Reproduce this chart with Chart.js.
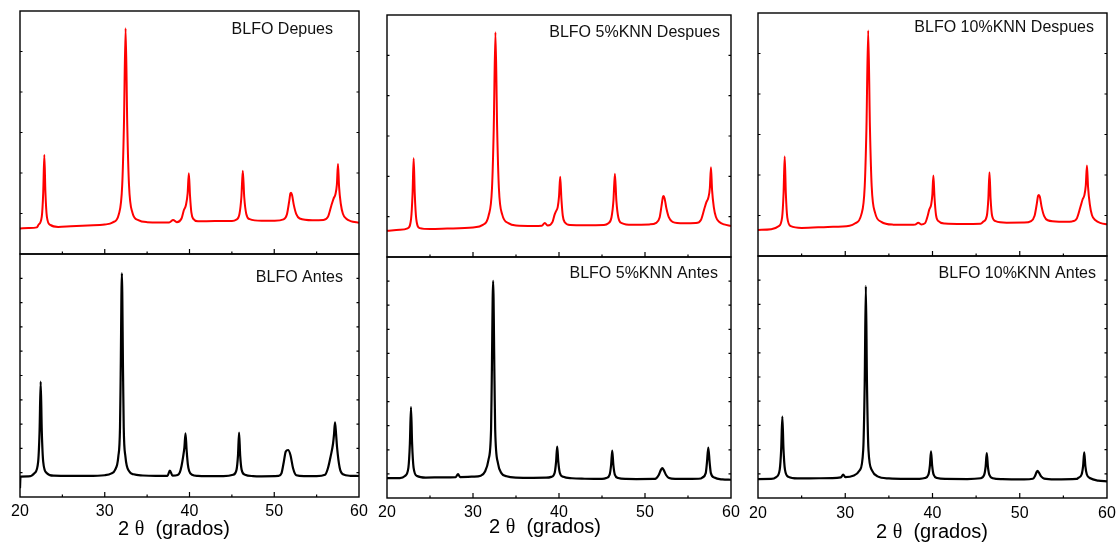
<!DOCTYPE html>
<html>
<head>
<meta charset="utf-8">
<script src="https://cdn.jsdelivr.net/npm/chart.js@4.4.1/dist/chart.umd.min.js"></script>
<style>
  html, body { margin: 0; padding: 0; background: #ffffff; }
  #wrap { position: relative; width: 1118px; height: 548px; overflow: hidden; background: #ffffff; }
  #wrap canvas { position: absolute; }
</style>
</head>
<body>
<div id="wrap"></div>
<script>
// ---- X axis (2θ, degrees) ----
const xTickValues = [20, 30, 40, 50, 60];
const xTickLabels = ['20', '30', '40', '50', '60'];
const xMinorTicks = [25, 35, 45, 55];
const xTitle = ['2 ', 'θ', '  (grados)'];

// ---- Diffraction patterns: [2θ, intensity (a.u.)] ----
const blfoDespues = [
  [20.0,190],[21.0,200],[22.0,215],[22.17,270],[22.57,462],[22.74,1017],[22.87,1886],[23.0,1020],[23.17,465],[23.57,272],
  [24.5,225],[26.0,240],[28.0,260],[30.0,280],[30.96,330],[31.66,520],[32.06,1190],[32.26,2545],[32.46,4810],[32.66,2545],
  [32.86,1200],[33.26,560],[33.96,380],[35.0,335],[36.5,330],[37.6,330],[38.07,385],[38.5,335],[39.06,420],[39.33,610],
  [39.58,730],[39.78,1000],[39.92,1463],[40.06,950],[40.22,560],[40.45,410],[41.0,355],[43.0,360],[45.0,362],[45.5,390],
  [45.9,530],[46.12,910],[46.29,1523],[46.46,910],[46.7,525],[47.1,405],[48.5,368],[50.0,370],[51.1,400],[51.5,520],
  [51.75,800],[51.9,995],[51.98,1015],[52.1,960],[52.3,740],[52.6,520],[53.0,420],[54.5,380],[55.8,385],[56.35,462],
  [56.74,720],[57.0,880],[57.22,980],[57.39,1200],[57.52,1678],[57.65,1150],[57.85,760],[58.1,530],[58.5,415],[59.0,360],
  [60.0,323]
];
const blfoAntes = [
  [20.0,0],[20.06,250],[21.0,255],[21.74,330],[22.14,565],[22.31,1235],[22.44,2284],[22.57,1235],[22.74,565],[23.14,330],
  [24.0,270],[26.0,265],[28.0,265],[30.0,280],[30.8,320],[31.2,390],[31.6,680],[31.8,1300],[31.88,2450],[32.02,4607],
  [32.16,2450],[32.24,1300],[32.44,680],[32.9,360],[33.4,300],[34.5,275],[36.0,265],[37.4,265],[37.68,380],[38.0,270],
  [38.6,285],[38.86,340],[39.06,480],[39.25,680],[39.4,880],[39.53,1179],[39.66,820],[39.8,520],[39.96,370],[40.3,290],
  [41.0,265],[42.0,260],[44.0,260],[45.15,290],[45.55,400],[45.72,700],[45.85,1192],[45.98,700],[46.15,400],[46.55,290],
  [47.5,262],[48.5,258],[50.5,265],[50.85,320],[51.12,560],[51.36,790],[51.63,821],[51.91,714],[52.22,430],[52.6,280],
  [53.5,262],[55.0,262],[56.0,290],[56.35,440],[56.66,690],[56.94,960],[57.05,1150],[57.17,1414],[57.3,1150],[57.41,880],
  [57.72,440],[58.1,300],[59.0,268],[60.0,264]
];
const blfo5Despues = [
  [20.0,215],[21.5,235],[22.4,270],[22.8,490],[22.97,1060],[23.1,1885],[23.23,1060],[23.4,490],[23.8,275],[25.0,255],
  [27.0,265],[30.0,290],[31.15,350],[31.81,560],[32.21,1200],[32.41,2550],[32.61,4794],[32.81,2550],[33.01,1200],[33.41,580],
  [34.11,390],[35.0,335],[37.0,325],[38.0,330],[38.35,390],[38.7,335],[39.25,420],[39.48,580],[39.63,653],[39.85,760],
  [40.0,1000],[40.14,1461],[40.28,950],[40.44,560],[40.67,410],[41.3,345],[43.0,340],[45.2,345],[45.7,380],[46.1,520],
  [46.33,910],[46.5,1530],[46.67,910],[46.9,520],[47.3,390],[48.5,350],[50.5,360],[51.3,395],[51.7,520],[51.93,800],
  [52.08,995],[52.16,1015],[52.28,960],[52.48,740],[52.78,520],[53.2,420],[54.5,385],[55.9,390],[56.5,462],[56.9,720],
  [57.15,880],[57.37,980],[57.54,1200],[57.67,1678],[57.8,1150],[58.0,760],[58.25,530],[58.65,415],[59.2,360],[60.0,323]
];
const blfo5Antes = [
  [20.0,214],[21.5,215],[22.09,260],[22.49,440],[22.66,950],[22.79,1736],[22.92,950],[23.09,440],[23.49,260],[24.5,225],
  [26.5,230],[28.0,235],[28.26,300],[28.5,235],[30.0,245],[30.9,265],[31.4,356],[31.8,606],[32.1,1250],[32.18,2300],
  [32.34,4449],[32.5,2300],[32.58,1250],[32.9,536],[33.3,321],[33.9,255],[35.0,225],[37.0,220],[38.5,222],[39.1,240],
  [39.5,330],[39.66,560],[39.79,892],[39.92,560],[40.09,330],[40.5,240],[41.5,210],[43.0,200],[45.0,195],[45.5,215],
  [45.89,290],[46.06,500],[46.19,806],[46.32,500],[46.49,290],[46.89,215],[47.8,195],[49.0,193],[51.0,195],[51.3,210],
  [51.6,280],[51.85,390],[52.01,429],[52.2,380],[52.45,280],[52.8,215],[53.5,195],[55.0,195],[56.5,205],[56.66,225],
  [57.06,320],[57.2,540],[57.36,871],[57.52,540],[57.66,320],[58.06,225],[59.0,185],[60.0,178]
];
const blfo10Despues = [
  [20.0,192],[21.5,210],[22.36,275],[22.76,475],[22.93,1040],[23.06,1883],[23.19,1040],[23.36,475],[23.76,280],[25.0,240],
  [28.0,262],[30.5,290],[31.1,340],[31.83,540],[32.23,1190],[32.43,2545],[32.63,4792],[32.83,2545],[33.03,1200],[33.43,580],
  [34.13,380],[35.5,315],[37.5,310],[38.0,315],[38.37,360],[38.7,320],[39.15,350],[39.45,520],[39.64,669],[39.85,780],
  [39.98,1000],[40.1,1445],[40.23,940],[40.4,540],[40.65,400],[41.4,340],[43.5,330],[45.5,335],[45.83,385],[46.23,520],
  [46.4,910],[46.53,1523],[46.66,910],[46.83,520],[47.23,395],[48.5,360],[50.5,362],[51.3,395],[51.7,520],[51.95,790],
  [52.1,980],[52.19,999],[52.31,950],[52.5,730],[52.8,510],[53.2,415],[54.5,383],[56.0,390],[56.55,460],[56.95,720],
  [57.21,900],[57.4,990],[57.57,1220],[57.7,1676],[57.83,1180],[58.03,780],[58.28,530],[58.68,415],[59.3,350],[60.0,323]
];
const blfo10Antes = [
  [20.0,193],[21.5,195],[22.09,235],[22.49,395],[22.66,840],[22.79,1534],[22.92,840],[23.09,395],[23.49,240],[24.5,205],
  [27.0,210],[29.5,230],[29.76,290],[30.0,235],[31.0,270],[31.66,380],[32.06,820],[32.23,2250],[32.36,4335],[32.49,2250],
  [32.66,820],[33.06,380],[33.7,250],[35.0,205],[37.0,195],[38.5,198],[39.13,215],[39.53,285],[39.7,480],[39.83,785],
  [39.96,480],[40.13,285],[40.53,215],[41.5,195],[44.0,193],[45.52,210],[45.92,280],[46.09,460],[46.22,750],[46.35,460],
  [46.52,280],[46.92,210],[48.0,190],[50.5,185],[51.5,200],[51.75,260],[51.92,340],[52.04,371],[52.2,330],[52.45,250],
  [52.8,200],[54.0,185],[56.5,195],[56.69,215],[57.09,290],[57.26,470],[57.39,764],[57.52,470],[57.69,290],[58.09,210],
  [59.0,160],[60.0,142]
];

// ---- Panel layout: one column per composition, "Despues" on top, "Antes" below ----
const SANS = "'Liberation Sans', Arial, Helvetica, sans-serif";
const SERIF = "'Liberation Serif', 'Times New Roman', serif";

const columns = [
  { L: 20,  R: 359,  T: 11, D: 254, B: 497, tickPad: 5, titleX: 174, titleBase: 535,
    top: { series: blfoDespues,  label: 'BLFO Depues',          min: -400, max: 5210, step: 1000, lr: 26, lb: 23 },
    bot: { series: blfoAntes,    label: 'BLFO Antes',           min: -186, max: 5020, step: 500,  lr: 16, lb: 28 } },
  { L: 387, R: 731,  T: 15, D: 257, B: 498, tickPad: 5, titleX: 545, titleBase: 533,
    top: { series: blfo5Despues, label: 'BLFO 5%KNN Despues',   min: -392, max: 5193, step: 1000, lr: 11, lb: 22 },
    bot: { series: blfo5Antes,   label: 'BLFO 5%KNN Antes',     min: -214, max: 4963, step: 500,  lr: 13, lb: 21 } },
  { L: 758, R: 1107, T: 13, D: 256, B: 498, tickPad: 6, titleX: 932, titleBase: 538,
    top: { series: blfo10Despues, label: 'BLFO 10%KNN Despues', min: -408, max: 5193, step: 1000, lr: 13, lb: 19 },
    bot: { series: blfo10Antes,   label: 'BLFO 10%KNN Antes',   min: -214, max: 4978, step: 500,  lr: 11, lb: 22 } }
];

// Frame, inward tick marks, panel caption and axis title
const panelDecor = {
  id: 'panelDecor',
  afterDatasetsDraw(chart, args, o) {
    const { ctx, chartArea: a, scales: { x, y } } = chart;
    ctx.save();
    ctx.strokeStyle = '#000';
    ctx.lineWidth = 1.4;
    ctx.strokeRect(a.left, a.top, a.right - a.left, a.bottom - a.top);

    ctx.lineWidth = 1.2;
    ctx.beginPath();
    xTickValues.forEach(v => {
      const px = x.getPixelForValue(v);
      if (px > a.left + 1 && px < a.right - 1) { ctx.moveTo(px, a.bottom); ctx.lineTo(px, a.bottom - 5); }
    });
    xMinorTicks.forEach(v => {
      const px = x.getPixelForValue(v);
      ctx.moveTo(px, a.bottom); ctx.lineTo(px, a.bottom - 2.5);
    });
    y.ticks.forEach(t => {
      const py = y.getPixelForValue(t.value);
      if (py > a.top + 2 && py < a.bottom - 2) {
        ctx.moveTo(a.left, py); ctx.lineTo(a.left + 2.5, py);
        ctx.moveTo(a.right, py); ctx.lineTo(a.right - 2.5, py);
      }
    });
    ctx.stroke();

    ctx.fillStyle = '#111';
    ctx.font = '16px ' + SANS;
    ctx.textAlign = 'right';
    ctx.textBaseline = 'alphabetic';
    ctx.fillText(o.label, a.right - o.lr, a.top + o.lb);

    if (o.title) {
      ctx.fillStyle = '#000';
      ctx.textAlign = 'left';
      const fonts = ['20px ' + SANS, '20px ' + SERIF, '20px ' + SANS];
      let total = 0;
      const widths = xTitle.map((s, i) => { ctx.font = fonts[i]; const w = ctx.measureText(s).width; total += w; return w; });
      let cx = o.titleX - total / 2;
      xTitle.forEach((s, i) => { ctx.font = fonts[i]; ctx.fillText(s, cx, o.titleBase); cx += widths[i]; });
    }
    ctx.restore();
  }
};

const wrap = document.getElementById('wrap');

function makePanel(box, p, opts) {
  const canvas = document.createElement('canvas');
  canvas.width = box.w; canvas.height = box.h;
  canvas.style.left = box.x + 'px'; canvas.style.top = box.y + 'px';
  canvas.style.width = box.w + 'px'; canvas.style.height = box.h + 'px';
  wrap.appendChild(canvas);

  const xScale = {
    type: 'linear', min: 20, max: 60, display: opts.showX,
    grid: { display: false, drawTicks: false }, border: { display: false },
    ticks: {
      stepSize: 10, padding: opts.tickPad || 0, autoSkip: false, maxRotation: 0,
      color: '#000', font: { family: SANS, size: 16 },
      callback: v => { const i = xTickValues.indexOf(v); return i < 0 ? '' : xTickLabels[i]; }
    }
  };
  if (opts.showX) xScale.afterFit = s => { s.height = opts.axisH; };

  new Chart(canvas, {
    type: 'line',
    data: {
      datasets: [{
        data: p.series.map(pt => ({ x: pt[0], y: pt[1] })),
        borderColor: opts.color, borderWidth: opts.lineW, pointRadius: 0,
        cubicInterpolationMode: 'monotone', fill: false
      }]
    },
    options: {
      responsive: false, animation: false, events: [], devicePixelRatio: 1,
      layout: { padding: box.pad },
      plugins: {
        legend: { display: false }, tooltip: { enabled: false },
        panelDecor: { label: p.label, lr: p.lr, lb: p.lb, title: opts.title, titleX: opts.titleX, titleBase: opts.titleBase }
      },
      scales: {
        x: xScale,
        y: { type: 'linear', display: false, min: p.min, max: p.max, ticks: { stepSize: p.step, includeBounds: false } }
      }
    },
    plugins: [panelDecor]
  });
}

const P = 6, SIDE = 30, AXIS_H = 50;
columns.forEach(c => {
  // upper panel (after treatment)
  makePanel(
    { x: c.L - P, y: c.T - P, w: c.R - c.L + 2 * P, h: c.D - c.T + 2 * P, pad: { left: P, right: P, top: P, bottom: P } },
    c.top, { showX: false, color: '#ff0000', lineW: 2 }
  );
  // lower panel (before treatment) with the 2θ axis
  const bx = c.L - SIDE, by = c.D - P;
  makePanel(
    { x: bx, y: by, w: c.R - c.L + 2 * SIDE, h: c.B - c.D + P + AXIS_H, pad: { left: SIDE, right: SIDE, top: P, bottom: 0 } },
    c.bot, { showX: true, axisH: AXIS_H, tickPad: c.tickPad, color: '#000000', lineW: 2.2,
             title: true, titleX: c.titleX - bx, titleBase: c.titleBase - by }
  );
});
</script>
</body>
</html>
